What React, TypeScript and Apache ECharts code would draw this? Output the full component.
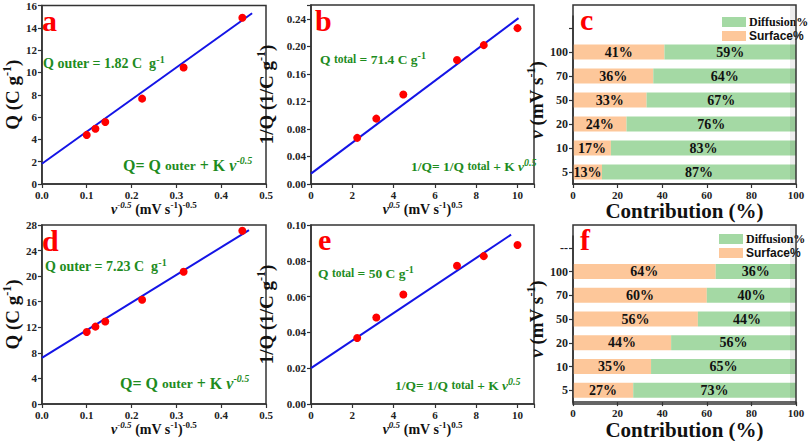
import React, { useEffect, useRef } from 'react';
import * as echarts from 'echarts';

// ---------- data ----------
const xInvSqrt = [0.1, 0.1195, 0.1414, 0.2236, 0.3162, 0.4472]; // v^-0.5
const xSqrt = [2.236, 3.162, 4.472, 7.071, 8.367, 10]; // v^0.5
const qA = [4.4, 4.95, 5.55, 7.65, 10.45, 14.9];
const fitA = [[0, 1.82], [0.469, 15.3]];
const invQB = [0.067, 0.095, 0.13, 0.18, 0.2017, 0.2264];
const fitB = [[0, 0.015], [10.05, 0.241]];
const qD = [11.25, 12.1, 12.9, 16.3, 20.7, 27.1];
const fitD = [[0, 7.23], [0.462, 27.2]];
const invQE = [0.0369, 0.0483, 0.0612, 0.0772, 0.0826, 0.0888];
const fitE = [[0, 0.02], [9.69, 0.0946]];
const rateCatsC = ['5', '10', '20', '50', '70', '100', ''];
const rateCatsF = ['5', '10', '20', '50', '70', '100', '--'];
const surfaceC = [13, 17, 24, 33, 36, 41];
const diffusionC = [87, 83, 76, 67, 64, 59];
const surfaceF = [27, 35, 44, 56, 60, 64];
const diffusionF = [73, 65, 56, 44, 40, 36];

// ---------- styles ----------
const SERIF = '"Liberation Serif", "Times New Roman", serif';
const SANS = '"Liberation Sans", Arial, sans-serif';
const GREEN = '#1E8C1E';
const RED = '#FF0000';
const BLUE = '#1414E6';
const ORANGE = '#FDC79A';
const LGREEN = '#A4D9A4';
const AXIS = '#333';

const isMult = (v: number, step: number) => Math.abs(v / step - Math.round(v / step)) < 1e-6;

const valueAxis = (gridIndex: number, min: number, max: number, interval: number, digits: number, extra: any = {}) => ({
  type: 'value',
  gridIndex,
  min,
  max,
  interval,
  axisLine: { show: true, lineStyle: { color: AXIS, width: 1.5 } },
  axisTick: { show: true, length: 4, lineStyle: { color: AXIS, width: 1.2 } },
  splitLine: { show: false },
  axisLabel: {
    color: '#222',
    fontFamily: SERIF,
    fontWeight: 'bold',
    fontSize: 11,
    margin: 5,
    formatter: (v: number) => (isMult(v, interval) ? v.toFixed(digits) : ''),
  },
  ...extra,
});

const nameRich = (big: number, small: number) => ({
  t: { fontSize: big, fontWeight: 'bold', fontFamily: SERIF, color: '#111', lineHeight: big + 4 },
  i: { fontSize: big, fontWeight: 'bold', fontStyle: 'italic', fontFamily: SERIF, color: '#111', lineHeight: big + 4 },
  s: { fontSize: small, fontWeight: 'bold', fontFamily: SERIF, color: '#111', verticalAlign: 'top', lineHeight: small },
  si: { fontSize: small, fontWeight: 'bold', fontStyle: 'italic', fontFamily: SERIF, color: '#111', verticalAlign: 'top', lineHeight: small },
});

const xNameInv = '{i|v}{si|-0.5}{t| (mV s}{s|-1}{t|)}{s|-0.5}';
const xNameSqrt = '{i|v}{si|0.5}{t| (mV s}{s|-1}{t|)}{s|0.5}';

const xNameOpts = (name: string) => ({
  name,
  nameLocation: 'middle',
  nameGap: 16,
  nameTextStyle: { verticalAlign: 'top', rich: nameRich(14, 9) },
});
const yNameOpts = (name: string, gap: number) => ({
  name,
  nameLocation: 'middle',
  nameRotate: 90,
  nameGap: gap,
  nameTextStyle: { rich: nameRich(19, 12) },
});

const annRich = (big: number, mid: number) => ({
  b: { fontSize: big, fontWeight: 'bold', fontFamily: SERIF, fill: GREEN, lineHeight: big + 4 },
  m: { fontSize: mid, fontWeight: 'bold', fontFamily: SERIF, fill: GREEN, lineHeight: big + 4 },
  i: { fontSize: big, fontWeight: 'bold', fontStyle: 'italic', fontFamily: SERIF, fill: GREEN, lineHeight: big + 4 },
  s: { fontSize: 10, fontWeight: 'bold', fontFamily: SERIF, fill: GREEN, verticalAlign: 'top', lineHeight: 10 },
  si: { fontSize: 10, fontWeight: 'bold', fontStyle: 'italic', fontFamily: SERIF, fill: GREEN, verticalAlign: 'top', lineHeight: 10 },
});

const annot = (x: number, y: number, text: string, big: number, mid: number) => ({
  type: 'text',
  x,
  y,
  z: 100,
  style: {
    text,
    rich: annRich(big, mid),
    fill: GREEN,
    align: 'left',
    verticalAlign: 'middle',
    textAlign: 'left',
    textVerticalAlign: 'middle',
  },
});

const letter = (x: number, y: number, t: string) => ({
  type: 'text',
  x,
  y,
  z: 100,
  style: {
    text: t,
    fill: RED,
    font: `bold 30px ${SERIF}`,
    align: 'left',
    verticalAlign: 'middle',
    textAlign: 'left',
    textVerticalAlign: 'middle',
  },
});

const frame = (x: number, y: number, w: number, h: number) => ({
  type: 'rect',
  z: 90,
  shape: { x, y, width: w, height: h },
  style: { fill: 'none', stroke: AXIS, lineWidth: 1.5 },
});
const band = (x: number, y: number, w: number, h: number) => ({
  type: 'rect',
  z: 80,
  shape: { x, y, width: w, height: h },
  style: { fill: 'rgba(0,0,0,0.07)' },
});

const pairs = (xs: number[], ys: number[]) => xs.map((x, i) => [x, ys[i]]);

const barSeries = (name: string, data: number[], color: string, idx: number, stack: string) => ({
  type: 'bar',
  name,
  stack,
  xAxisIndex: idx,
  yAxisIndex: idx,
  data,
  barWidth: 15,
  itemStyle: { color },
  label: {
    show: true,
    position: 'inside',
    formatter: '{c}%',
    color: '#111',
    fontFamily: SERIF,
    fontWeight: 'bold',
    fontSize: 14,
  },
});

const catYAxis = (gridIndex: number, cats: string[]) => ({
  type: 'category',
  gridIndex,
  data: cats,
  ...yNameOpts('{i|v}{t| (mV s}{s|-1}{t|)}', 20),
  axisLine: { show: true, lineStyle: { color: AXIS, width: 1.5 } },
  axisTick: { show: true, alignWithLabel: true, length: 4, lineStyle: { color: AXIS, width: 1.2 } },
  axisLabel: { color: '#222', fontFamily: SERIF, fontWeight: 'bold', fontSize: 12, margin: 5 },
  splitLine: { show: false },
});

const pctXAxis = (gridIndex: number) =>
  valueAxis(gridIndex, 0, 100, 20, 0, {
    name: 'Contribution (%)',
    nameLocation: 'middle',
    nameGap: 12,
    nameTextStyle: { verticalAlign: 'top', fontFamily: SERIF, fontWeight: 'bold', fontSize: 21, color: '#111' },
  });

const legendOpts = (left: number, top: number) => ({
  left,
  top,
  orient: 'vertical',
  icon: 'rect',
  itemWidth: 24,
  itemHeight: 10,
  itemGap: 2,
  selectedMode: false,
  textStyle: { fontWeight: 'bold', fontSize: 12, color: '#111', lineHeight: 11, padding: [0, 0, 0, -2] },
  data: [
    { name: 'Diffusion%', textStyle: { fontFamily: SERIF } },
    { name: 'Surface%', textStyle: { fontFamily: SANS } },
  ],
});

export default function App() {
  const ref = useRef<HTMLDivElement>(null);
  useEffect(() => {
    if (!ref.current) return;
    const chart = echarts.init(ref.current, undefined, { renderer: 'svg' });
    const scatter = (idx: number, data: number[][]) => ({
      type: 'scatter',
      xAxisIndex: idx,
      yAxisIndex: idx,
      data,
      symbolSize: 8,
      itemStyle: { color: RED, opacity: 1 },
      z: 5,
    });
    const fit = (idx: number, data: number[][]) => ({
      type: 'line',
      xAxisIndex: idx,
      yAxisIndex: idx,
      data,
      symbol: 'none',
      lineStyle: { color: BLUE, width: 2 },
      z: 3,
    });
    const gridBorder = { show: true, borderColor: AXIS, borderWidth: 1.5, backgroundColor: 'transparent' };
    chart.setOption({
      animation: false,
      backgroundColor: '#fff',
      grid: [
        { left: 38, top: 5, width: 228, height: 179, ...gridBorder },
        { left: 311, top: 5, width: 223, height: 179, ...gridBorder },
        { left: 573, top: 16, width: 223, height: 168 },
        { left: 38, top: 225, width: 228, height: 179, ...gridBorder },
        { left: 311, top: 225, width: 223, height: 179, ...gridBorder },
        { left: 573, top: 236, width: 223, height: 168 },
      ],
      xAxis: [
        valueAxis(0, 0, 0.5, 0.1, 1, xNameOpts(xNameInv)),
        valueAxis(1, 0, 10.8, 2, 0, xNameOpts(xNameSqrt)),
        pctXAxis(2),
        valueAxis(3, 0, 0.5, 0.1, 1, xNameOpts(xNameInv)),
        valueAxis(4, 0, 10.8, 2, 0, xNameOpts(xNameSqrt)),
        pctXAxis(5),
      ],
      yAxis: [
        valueAxis(0, 0, 16, 2, 0, yNameOpts('{t|Q (C g}{s|-1}{t|)}', 17)),
        valueAxis(1, 0, 0.26, 0.04, 2, yNameOpts('{t|1/Q (1/C g}{s|-1}{t|)}', 33)),
        catYAxis(2, rateCatsC),
        valueAxis(3, 0, 28, 4, 0, yNameOpts('{t|Q (C g}{s|-1}{t|)}', 17)),
        valueAxis(4, 0, 0.1, 0.02, 2, yNameOpts('{t|1/Q (1/C g}{s|-1}{t|)}', 33)),
        catYAxis(5, rateCatsF),
      ],
      legend: [legendOpts(717, 11), legendOpts(714, 228)],
      series: [
        fit(0, fitA),
        scatter(0, pairs(xInvSqrt, qA)),
        fit(1, fitB),
        scatter(1, pairs(xSqrt, invQB)),
        barSeries('Surface%', surfaceC, ORANGE, 2, 'c'),
        barSeries('Diffusion%', diffusionC, LGREEN, 2, 'c'),
        fit(3, fitD),
        scatter(3, pairs(xInvSqrt, qD)),
        fit(4, fitE),
        scatter(4, pairs(xSqrt, invQE)),
        barSeries('Surface%', surfaceF, ORANGE, 5, 'f'),
        barSeries('Diffusion%', diffusionF, LGREEN, 5, 'f'),
      ],
      graphic: [
        frame(573, 5, 223, 179),
        frame(573, 225, 223, 179),
        band(790, 6, 5, 177),
        band(790, 226, 5, 177),
        letter(42, 20, 'a'),
        letter(315, 20, 'b'),
        letter(580, 19, 'c'),
        letter(42, 240, 'd'),
        letter(318, 239, 'e'),
        letter(580, 239, 'f'),
        annot(43, 63, '{b|Q outer = 1.82 C  g}{s|-1}', 14, 14),
        annot(123, 165, '{b|Q= Q }{m|outer}{b| + K }{i|v}{si|-0.5}', 16, 13.5),
        annot(320, 59, '{b|Q }{m|total}{b| = 71.4 C g}{s|-1}', 13.5, 11.5),
        annot(411, 166, '{b|1/Q= 1/Q }{m|total}{b| + K }{i|v}{si|0.5}', 13.5, 11.5),
        annot(45, 266, '{b|Q outer = 7.23 C  g}{s|-1}', 14, 14),
        annot(120, 383, '{b|Q= Q }{m|outer}{b| + K }{i|v}{si|-0.5}', 16, 13.5),
        annot(318, 273, '{b|Q }{m|total}{b| = 50 C g}{s|-1}', 13.5, 11.5),
        annot(395, 385, '{b|1/Q= 1/Q }{m|total}{b| + K }{i|v}{si|0.5}', 13.5, 11.5),
      ],
    });
    return () => chart.dispose();
  }, []);
  return <div ref={ref} style={{ position: 'absolute', left: 0, top: 0, width: 808, height: 441 }} />;
}
